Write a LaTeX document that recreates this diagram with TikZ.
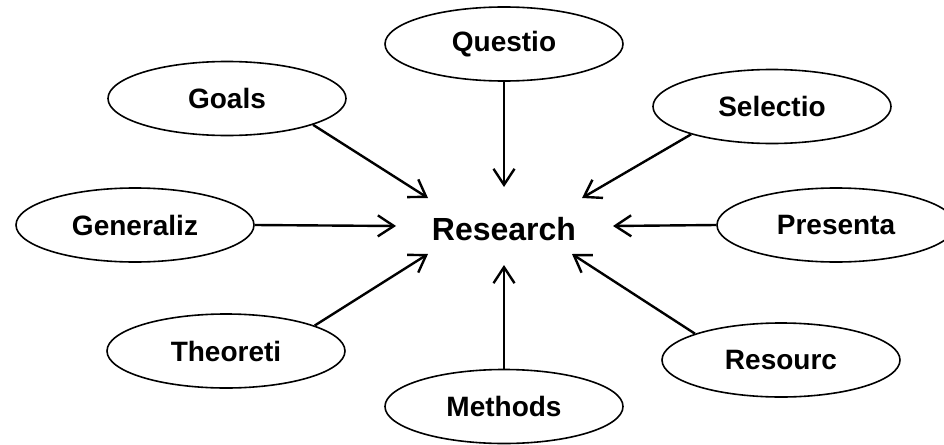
\documentclass[tikz,border=0pt]{standalone}
\usepackage{fontspec}
\setmainfont{Liberation Sans}
\usetikzlibrary{shapes.geometric,arrows.meta}
\begin{document}
\begin{tikzpicture}[x=1pt,y=-1pt,
  topic/.style={ellipse,draw,line width=1.6pt,minimum width=238pt,minimum height=74pt,
    inner sep=0pt,font=\bfseries\fontsize{28}{34}\selectfont},
  hub/.style={inner sep=0pt,font=\bfseries\fontsize{32}{38}\selectfont},
  feed/.style={line width=2.4pt,-{Straight Barb[length=16pt,width=21pt]}}]
\clip (0,0) rectangle (944,444);
\fill[white] (0,0) rectangle (944,444);

% central topic
\node[hub] (research) at (504,229) {Research};

% surrounding topics
\node[topic] (questio)   at (504,44)    {Questio};
\node[topic] (goals)     at (227,98.5)  {Goals};
\node[topic] (selectio)  at (772,106.5) {Selectio};
\node[topic] (generaliz) at (135,225)   {Generaliz};
\node[topic] (presenta)  at (836,225)   {Presenta};
\node[topic] (theoreti)  at (226,351)   {Theoreti};
\node[topic] (resourc)   at (781,360)   {Resourc};
\node[topic] (methods)   at (504,406.5) {Methods};

% arrow tips around the central topic
\coordinate (tq) at (504,187);
\coordinate (tg) at (428,198);
\coordinate (ts) at (582,198);
\coordinate (tz) at (396,226);
\coordinate (tp) at (613,226);
\coordinate (tt) at (428,254);
\coordinate (tr) at (572,254);
\coordinate (tm) at (504,265);

% connectors
\draw[feed] (questio.south)   -- (tq);
\draw[feed] (goals.-17.7)     -- (tg);
\draw[feed] (selectio.-161.5) -- (ts);
\draw[feed] (generaliz.east)  -- (tz);
\draw[feed] (presenta.west)   -- (tp);
\draw[feed] (theoreti.16)     -- (tt);
\draw[feed] (resourc.163)     -- (tr);
\draw[feed] (methods.north)   -- (tm);
\end{tikzpicture}
\end{document}
